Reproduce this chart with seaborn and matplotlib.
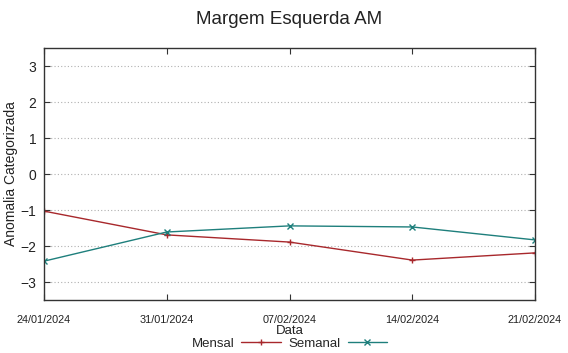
import matplotlib
matplotlib.use("Agg")
import matplotlib.pyplot as plt
import pandas as pd
import seaborn as sns

# Weekly dates and the two anomaly series
datas = ["2024-01-24", "2024-01-31", "2024-02-07", "2024-02-14", "2024-02-21"]
mensal = [-1.03, -1.69, -1.89, -2.39, -2.19]
semanal = [-2.42, -1.61, -1.44, -1.47, -1.83]
tick_labels = ["24/01/2024", "31/01/2024", "07/02/2024", "14/02/2024", "21/02/2024"]

df = pd.DataFrame({
    "Data": pd.to_datetime(datas * 2),
    "Anomalia": mensal + semanal,
    "Serie": ["Mensal"] * len(datas) + ["Semanal"] * len(datas),
})

sns.set_style("white")
plt.rcParams["font.family"] = ["Liberation Sans", "DejaVu Sans"]

fig = plt.figure(figsize=(5.68, 3.53), dpi=100)
ax = fig.add_axes([0.0775, 0.150, 0.8645, 0.714])

palette = {"Mensal": "#a8282c", "Semanal": "#1e7f7c"}
sns.lineplot(data=df, x="Data", y="Anomalia", hue="Serie", style="Serie",
             markers={"Mensal": "+", "Semanal": "x"}, dashes=False,
             palette=palette, linewidth=1.0, markersize=5,
             ax=ax)

# line-type markers need their edge coloured like the line
for ln in ax.get_lines():
    ln.set_markeredgecolor(ln.get_color())
    ln.set_markeredgewidth(1.0)

ax.set_ylim(-3.5, 3.5)
ax.set_yticks([-3, -2, -1, 0, 1, 2, 3])
ax.set_xlim(pd.Timestamp(datas[0]), pd.Timestamp(datas[-1]))
ax.set_xticks(pd.to_datetime(datas))
ax.set_xticklabels(tick_labels)

ax.grid(axis="y", color="#b0b0b0", linestyle=(0, (1, 2)), linewidth=0.8)
ax.grid(axis="x", visible=False)

ax.tick_params(axis="x", direction="in", length=4, top=True, bottom=True,
               pad=11, labelsize=7.8, width=0.8, color="#333333")
ax.tick_params(axis="y", direction="in", length=4, left=True, right=True,
               pad=5.5, labelsize=10, width=0.8, color="#333333")
for lbl in ax.get_xticklabels() + ax.get_yticklabels():
    lbl.set_color("#222222")
for sp in ax.spines.values():
    sp.set_color("#333333")
    sp.set_linewidth(1.0)

ax.set_title("Margem Esquerda AM", fontsize=13.5, color="#222222", pad=17)
ax.set_ylabel("Anomalia Categorizada", fontsize=10, color="#222222")
ax.yaxis.set_label_coords(-0.052, 0.5)
ax.set_xlabel("Data", fontsize=9.5, color="#222222")
ax.xaxis.set_label_coords(0.5, -0.1)

handles, labels = ax.get_legend_handles_labels()
for h in handles:
    h.set_markeredgecolor(h.get_color())
    h.set_markeredgewidth(1.0)
ax.legend(handles, labels, loc="upper center", bbox_to_anchor=(0.5, -0.148),
          ncol=2, frameon=False, markerfirst=False, fontsize=9.5,
          handlelength=3, columnspacing=0.6, handletextpad=0.5,
          borderpad=0, borderaxespad=0)

fig.savefig("out.png", dpi=100)
